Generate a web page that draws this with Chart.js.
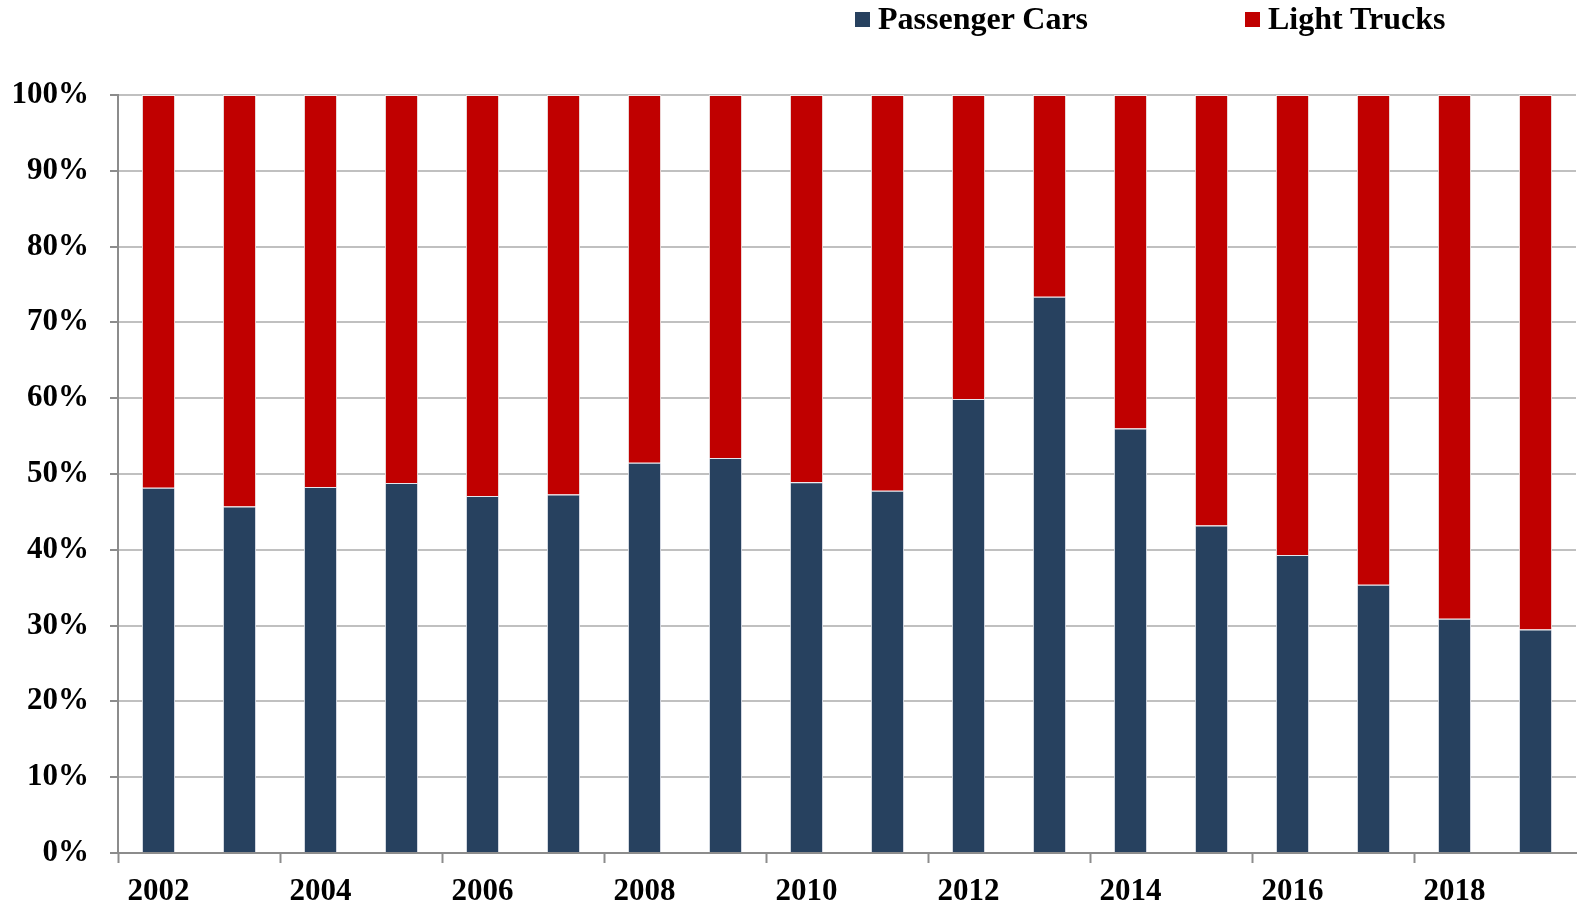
<!DOCTYPE html>
<html>
<head>
<meta charset="utf-8">
<script src="https://cdn.jsdelivr.net/npm/chart.js@4/dist/chart.umd.min.js"></script>
<style>
  html, body { margin: 0; padding: 0; background: #ffffff; }
  #wrap { position: relative; width: 1577px; height: 907px; }
  #legend { position: absolute; top: 0; left: 0; width: 1577px; height: 40px; font-family: "Liberation Serif", "Times New Roman", serif; font-weight: bold; font-size: 32px; color: #000; }
  .box { position: absolute; width: 15px; height: 15px; top: 12px; }
  .txt { position: absolute; top: 2px; line-height: 32px; white-space: nowrap; }
</style>
</head>
<body>
<div id="wrap">
  <canvas id="c" width="1577" height="907"></canvas>
  <div id="legend"></div>
</div>
<script>
const categories = ["2002","2003","2004","2005","2006","2007","2008","2009","2010","2011","2012","2013","2014","2015","2016","2017","2018","2019"];
const passengerCars = [48.2, 45.7, 48.3, 48.8, 47.1, 47.3, 51.5, 52.1, 48.9, 47.8, 59.9, 73.4, 56.0, 43.2, 39.3, 35.4, 30.9, 29.5];
const lightTrucks   = [51.8, 54.3, 51.7, 51.2, 52.9, 52.7, 48.5, 47.9, 51.1, 52.2, 40.1, 26.6, 44.0, 56.8, 60.7, 64.6, 69.1, 70.5];
const seriesNames = ["Passenger Cars", "Light Trucks"];
const seriesColors = ["#27415f", "#c00000"];

// HTML legend
const legendEl = document.getElementById('legend');
const legendPos = [{box: 855, txt: 878}, {box: 1245, txt: 1268}];
seriesNames.forEach((n, i) => {
  const b = document.createElement('div');
  b.className = 'box';
  b.style.left = legendPos[i].box + 'px';
  b.style.background = seriesColors[i];
  legendEl.appendChild(b);
  const t = document.createElement('div');
  t.className = 'txt';
  t.style.left = legendPos[i].txt + 'px';
  t.textContent = n;
  legendEl.appendChild(t);
});

const axisFont = { family: "'Liberation Serif', 'Times New Roman', serif", weight: 'bold', size: 31 };

new Chart(document.getElementById('c'), {
  type: 'bar',
  data: {
    labels: categories,
    datasets: [
      { label: seriesNames[0], data: passengerCars, backgroundColor: seriesColors[0], borderColor: '#e4e7ee', borderWidth: 1, barPercentage: 0.41, categoryPercentage: 1.0 },
      { label: seriesNames[1], data: lightTrucks, backgroundColor: seriesColors[1], borderColor: '#eeeaea', borderWidth: 1, barPercentage: 0.41, categoryPercentage: 1.0 }
    ]
  },
  options: {
    responsive: false,
    animation: false,
    layout: { padding: { top: 95, right: 1, left: 0, bottom: 0 } },
    plugins: { legend: { display: false }, tooltip: { enabled: false } },
    scales: {
      x: {
        stacked: true,
        offset: true,
        afterFit: (s) => { s.height = 54; },
        border: { display: true, color: '#8c8c8c', width: 2 },
        grid: {
          offset: true,
          drawOnChartArea: false,
          drawTicks: true,
          tickLength: 10,
          tickWidth: 2,
          tickColor: (ctx) => (ctx.index % 2 === 0 ? '#8c8c8c' : 'rgba(0,0,0,0)')
        },
        ticks: {
          autoSkip: false,
          maxRotation: 0,
          padding: 10,
          color: '#000',
          font: axisFont,
          callback: function(v, i) { return i % 2 === 0 ? categories[i] : ''; }
        }
      },
      y: {
        stacked: true,
        min: 0,
        max: 100,
        afterFit: (s) => { s.width = 118; },
        border: { display: true, color: '#8c8c8c', width: 2 },
        grid: {
          color: '#c0c0c0',
          lineWidth: 2,
          tickLength: 8,
          tickColor: '#8c8c8c',
          tickWidth: 2
        },
        ticks: {
          stepSize: 10,
          padding: 21,
          color: '#000',
          font: axisFont,
          callback: (v) => v + '%'
        }
      }
    }
  }
});
</script>
</body>
</html>
